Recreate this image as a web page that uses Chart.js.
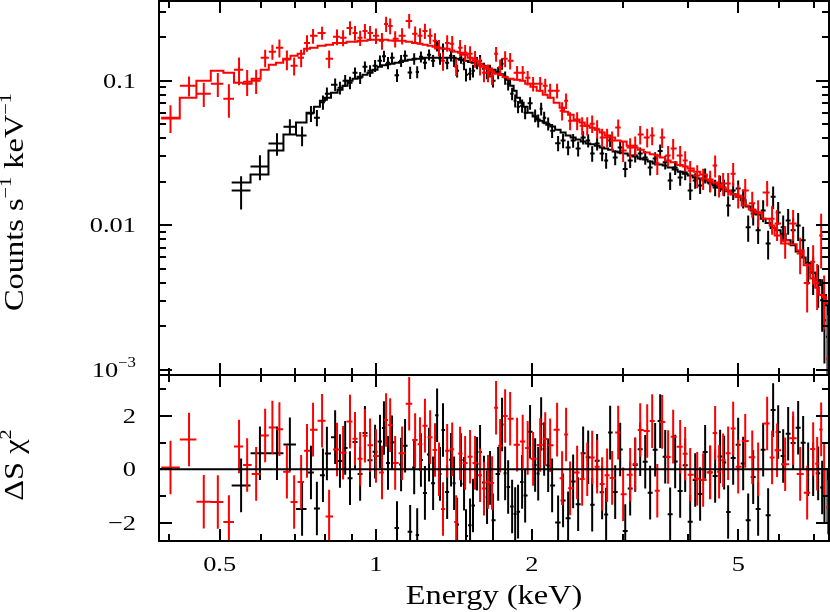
<!DOCTYPE html>
<html><head><meta charset="utf-8">
<script src="https://cdn.jsdelivr.net/npm/chart.js@4.4.1/dist/chart.umd.min.js"></script>
<style>
html,body{margin:0;padding:0;background:#fff;}
#wrap{position:relative;width:830px;height:612px;background:#fff;}
canvas{position:absolute;left:0;top:0;}
</style></head><body>
<div id="wrap"><canvas id="topc" width="830" height="612"></canvas><canvas id="botc" width="830" height="612"></canvas></div>
<script>
// ---------- DATA ----------
const blackEnergy = [0.550,0.598,0.645,0.683,0.721,0.750,0.770,0.791,0.805,0.835,0.853,0.873,0.892,0.912,0.933,0.953,0.975,0.997,1.019,1.037,1.056,1.075,1.099,1.119,1.139,1.165,1.186,1.202,1.222,1.244,1.267,1.290,1.313,1.330,1.348,1.373,1.397,1.416,1.435,1.460,1.480,1.493,1.520,1.540,1.568,1.589,1.617,1.639,1.661,1.683,1.722,1.752,1.776,1.800,1.832,1.857,1.881,1.915,1.941,1.984,2.029,2.057,2.084,2.112,2.150,2.188,2.247,2.297,2.349,2.402,2.456,2.511,2.568,2.614,2.672,2.732,2.781,2.831,2.895,2.960,3.027,3.094,3.164,3.235,3.308,3.381,3.457,3.535,3.615,3.695,3.778,3.863,3.950,4.039,4.130,4.221,4.316,4.413,4.512,4.613,4.696,4.780,4.888,4.998,5.110,5.225,5.342,5.461,5.584,5.709,5.837,5.969,6.103,6.240,6.379,6.523,6.669,6.819,6.972,7.129,7.256,7.33,7.43];
const blackCounts = [0.0174,0.0255,0.0368,0.0481,0.0418,0.0593,0.0556,0.0710,0.0813,0.094,0.0895,0.100,0.0969,0.1135,0.1049,0.125,0.1172,0.1269,0.1374,0.148,0.1331,0.1441,0.109,0.1374,0.1488,0.114,0.1419,0.115,0.1465,0.1331,0.1512,0.1374,0.1744,0.1419,0.1662,0.1331,0.1488,0.1374,0.1172,0.1441,0.131,0.110,0.112,0.1172,0.1331,0.1374,0.121,0.1135,0.1172,0.100,0.1135,0.131,0.1049,0.0953,0.0813,0.0728,0.066,0.0672,0.0602,0.0700,0.0574,0.0530,0.064,0.0556,0.0505,0.0452,0.037,0.0386,0.0345,0.0386,0.034,0.0405,0.0386,0.0314,0.0368,0.0314,0.0281,0.0386,0.0295,0.0345,0.0245,0.0281,0.0304,0.0314,0.0295,0.0251,0.029,0.0327,0.0273,0.0204,0.0251,0.0214,0.0232,0.0174,0.0204,0.0189,0.0221,0.0195,0.0183,0.0195,0.0183,0.0137,0.0174,0.0180,0.0154,0.0097,0.0121,0.00924,0.0127,0.0075,0.0158,0.0123,0.0097,0.0108,0.00924,0.0100,0.00788,0.0055,0.0047,0.0040,0.00304,0.00221,0.0017];
const blackError = [0.0045,0.005,0.0065,0.006,0.0065,0.0075,0.0072,0.008,0.0085,0.0095,0.009,0.0095,0.0095,0.010,0.010,0.011,0.011,0.012,0.012,0.013,0.013,0.013,0.011,0.013,0.013,0.011,0.013,0.011,0.013,0.013,0.013,0.013,0.015,0.013,0.015,0.013,0.013,0.013,0.012,0.013,0.013,0.011,0.011,0.012,0.013,0.013,0.012,0.011,0.012,0.010,0.011,0.012,0.011,0.0095,0.008,0.0075,0.0065,0.007,0.006,0.007,0.0058,0.0055,0.0065,0.0055,0.0052,0.005,0.0045,0.0045,0.004,0.0042,0.004,0.0042,0.004,0.0038,0.0038,0.0036,0.0035,0.0038,0.0034,0.0035,0.003,0.0032,0.0032,0.0032,0.0032,0.003,0.003,0.0035,0.003,0.0028,0.0028,0.0026,0.0027,0.0024,0.0025,0.0024,0.0026,0.0025,0.0024,0.0025,0.0024,0.0022,0.0024,0.0024,0.0023,0.002,0.0021,0.0018,0.0022,0.0017,0.0028,0.0022,0.002,0.0022,0.002,0.0022,0.0019,0.0016,0.0014,0.0013,0.0012,0.0011,0.0011];
const blackModel = [0.0198,0.0225,0.0329,0.0425,0.0514,0.0602,0.0661,0.0728,0.0763,0.0826,0.0867,0.0924,0.100,0.1033,0.1066,0.110,0.1135,0.119,0.1249,0.128,0.130,0.131,0.1331,0.135,0.1374,0.1396,0.141,0.142,0.1419,0.1445,0.1441,0.1441,0.1441,0.1441,0.1441,0.1441,0.1441,0.1441,0.1419,0.1396,0.138,0.1374,0.135,0.1334,0.1304,0.1289,0.1269,0.1249,0.121,0.119,0.1154,0.111,0.1066,0.1016,0.0924,0.0853,0.0763,0.0705,0.0661,0.0602,0.0565,0.0539,0.0530,0.0514,0.0497,0.0482,0.0459,0.0438,0.0418,0.0405,0.0392,0.0380,0.0368,0.0364,0.0356,0.0345,0.0340,0.0334,0.0324,0.0319,0.0314,0.0304,0.0299,0.0290,0.0286,0.0277,0.0268,0.0264,0.0259,0.0251,0.0243,0.0235,0.0228,0.0221,0.0214,0.0211,0.0204,0.0198,0.0189,0.0183,0.0177,0.0172,0.0164,0.0158,0.0149,0.0135,0.0127,0.0119,0.0111,0.0104,0.0096,0.00924,0.0087,0.00788,0.00728,0.0066,0.0060,0.0055,0.0047,0.0042,0.00386,0.0033,0.0028];
const blackResid = [-0.6,0.6,0.6,0.93,-1.48,-0.12,-1.46,-0.22,0.59,1.2,0.31,0.8,-0.33,1.02,-0.17,1.36,0.34,0.66,1.04,1.54,0.24,1.01,-2.19,0.18,0.88,-2.33,0.07,-2.45,0.35,-0.88,0.55,-0.52,2.02,-0.17,1.47,-0.85,0.36,-0.52,-2.06,0.35,-0.54,-2.49,-2.09,-1.35,0.21,0.65,-0.49,-1.04,-0.32,-1.9,-0.17,1.67,-0.15,-0.66,-1.39,-1.67,-1.58,-0.47,-0.98,1.4,0.16,-0.16,1.69,0.76,0.15,-0.6,-1.98,-1.16,-1.83,-0.45,-1.3,0.6,0.45,-1.32,0.32,-0.86,-1.69,1.37,-0.85,0.74,-2.3,-0.72,0.16,0.75,0.28,-0.87,0.73,1.8,0.47,-1.68,0.29,-0.81,0.15,-1.96,-0.4,-0.92,0.65,-0.12,-0.25,0.48,0.25,-1.59,0.42,0.92,0.22,-1.9,-0.29,-1.48,0.73,-1.71,2.21,1.39,0.5,1.33,0.98,1.55,0.99,0,0,-0.15,-0.68,-0.99,-1.0];

const redEnergy = [0.402,0.4365,0.466,0.496,0.521,0.545,0.565,0.588,0.612,0.632,0.652,0.674,0.696,0.718,0.737,0.757,0.788,0.813,0.842,0.865,0.892,0.912,0.933,0.953,0.975,1.001,1.028,1.047,1.066,1.090,1.124,1.160,1.191,1.217,1.244,1.273,1.301,1.324,1.348,1.373,1.404,1.429,1.454,1.487,1.520,1.554,1.589,1.617,1.646,1.676,1.706,1.737,1.776,1.816,1.873,1.920,1.963,2.011,2.075,2.122,2.169,2.237,2.287,2.328,2.370,2.445,2.500,2.557,2.614,2.672,2.732,2.793,2.856,2.934,2.999,3.094,3.164,3.235,3.337,3.412,3.49,3.566,3.662,3.745,3.863,3.950,4.039,4.167,4.278,4.413,4.512,4.592,4.675,4.780,4.888,4.998,5.157,5.320,5.461,5.684,5.810,5.94,6.157,6.379,6.581,6.789,6.972,7.097,7.224,7.32,7.45];
const redCounts = [0.0556,0.0924,0.0813,0.0953,0.0751,0.119,0.0985,0.100,0.1441,0.1585,0.169,0.140,0.1269,0.1441,0.1827,0.2044,0.2143,0.1419,0.2012,0.1981,0.232,0.2143,0.1981,0.2212,0.2143,0.2044,0.1888,0.2471,0.2394,0.1949,0.2044,0.2594,0.211,0.2044,0.2212,0.2044,0.1888,0.169,0.1374,0.1827,0.180,0.125,0.169,0.156,0.1535,0.1419,0.1269,0.1135,0.1135,0.1083,0.1535,0.124,0.1419,0.1374,0.1135,0.1135,0.1049,0.0953,0.0953,0.0924,0.0853,0.0853,0.0621,0.0728,0.0530,0.0530,0.0489,0.0489,0.0505,0.0466,0.0405,0.0405,0.0386,0.0475,0.0329,0.0345,0.0356,0.0425,0.0405,0.0418,0.0268,0.0405,0.0304,0.034,0.0304,0.0281,0.0239,0.0221,0.0211,0.0204,0.0259,0.0189,0.0195,0.0195,0.0228,0.0161,0.0174,0.0142,0.0123,0.0169,0.0111,0.0103,0.00788,0.0103,0.0064,0.004,0.0056,0.004,0.00853,0.0032,0.0012];
const redError = [0.012,0.0145,0.0155,0.018,0.0195,0.026,0.02,0.019,0.02,0.019,0.024,0.022,0.018,0.02,0.024,0.024,0.022,0.02,0.025,0.025,0.026,0.025,0.024,0.026,0.025,0.025,0.025,0.03,0.03,0.025,0.026,0.03,0.026,0.026,0.027,0.025,0.024,0.022,0.02,0.024,0.024,0.017,0.022,0.021,0.02,0.019,0.018,0.016,0.016,0.015,0.018,0.016,0.018,0.018,0.013,0.013,0.012,0.011,0.011,0.011,0.010,0.010,0.009,0.009,0.0075,0.0075,0.007,0.007,0.007,0.0068,0.006,0.006,0.006,0.0065,0.0055,0.0055,0.0055,0.0062,0.006,0.006,0.0045,0.0062,0.005,0.0055,0.005,0.0045,0.004,0.004,0.0035,0.0035,0.0045,0.0033,0.0035,0.0035,0.0042,0.003,0.0035,0.0029,0.0026,0.0034,0.0025,0.0025,0.002,0.0025,0.0018,0.0015,0.0017,0.0014,0.0035,0.0013,0.0012];
const redModel = [0.0548,0.0763,0.100,0.1172,0.1135,0.0969,0.0953,0.1033,0.119,0.1289,0.1331,0.1419,0.1488,0.1535,0.1662,0.169,0.1744,0.1771,0.1827,0.1827,0.1858,0.1858,0.1888,0.1888,0.1918,0.1918,0.1918,0.1918,0.190,0.1888,0.1888,0.1858,0.1827,0.180,0.1771,0.1744,0.1716,0.169,0.167,0.1662,0.162,0.1585,0.156,0.151,0.1441,0.1374,0.1309,0.125,0.121,0.116,0.112,0.110,0.106,0.1033,0.1016,0.100,0.0953,0.0910,0.0853,0.080,0.0763,0.0705,0.0651,0.0611,0.0583,0.0539,0.0514,0.0489,0.0474,0.0459,0.0438,0.0418,0.0405,0.0386,0.038,0.0356,0.0345,0.0334,0.0319,0.031,0.0304,0.0295,0.0281,0.0273,0.0262,0.0255,0.0247,0.0235,0.0225,0.0208,0.0198,0.0192,0.0183,0.0174,0.0164,0.0158,0.0137,0.0129,0.0123,0.0111,0.0100,0.00853,0.0075,0.0074,0.0067,0.0053,0.0043,0.0037,0.0033,0.0032,0.0029];
const redResid = [0.07,1.11,-1.21,-1.22,-1.97,0.85,0.16,-0.17,1.26,1.56,1.5,-0.09,-1.22,-0.47,0.69,1.48,1.81,-1.76,0.74,0.62,1.78,1.14,0.39,1.25,0.9,0.5,-0.12,1.84,1.65,0.24,0.6,2.45,1.09,0.94,1.63,1.2,0.72,0,-1.48,0.69,0.75,-1.97,0.59,0.24,0.47,0.24,-0.22,-0.72,-0.47,-0.51,2.3,0.88,1.99,1.89,0.92,1.04,0.8,0.39,0.91,1.13,0.9,1.48,-0.33,1.3,-0.71,-0.12,-0.36,0,0.44,0.1,-0.55,-0.22,-0.32,1.37,-0.93,-0.2,0.2,1.47,1.43,1.8,-0.8,1.77,0.46,1.22,0.84,0.58,-0.2,-0.35,-0.4,-0.11,1.36,-0.09,0.34,0.6,1.52,0.1,1.06,0.45,0,1.71,0.44,0.71,0.19,1.16,-0.17,-0.87,0.76,0.21,1.49,0,-1.42];

// axis ranges and ticks
const energyRange = [0.382, 7.48];
const countsRange = [0.000924, 0.356];
const residRange = [-2.675, 3.52];
const xMajorTicks = [0.5, 1, 2, 5];
const xMajorLabels = ['0.5', '1', '2', '5'];
const xMinorTicks = [0.4, 0.6, 0.7, 0.8, 0.9, 3, 4, 6, 7];
const yMajorTicks = [0.001, 0.01, 0.1];
const yMinorTicks = [0.002,0.003,0.004,0.005,0.006,0.007,0.008,0.009,0.02,0.03,0.04,0.05,0.06,0.07,0.08,0.09,0.2,0.3];
const rMajorTicks = [-2, 0, 2];
const rMajorLabels = ['\u22122', '0', '2'];
const rMinorTicks = [-1, 1, 3];

// ---------- helpers ----------
const FONT = '"Liberation Serif","Times New Roman",serif';
const STRETCH = 1.2;
function binEdges(E){
  const n = E.length, ed = new Array(n+1);
  for (let i=1;i<n;i++) ed[i] = Math.sqrt(E[i-1]*E[i]);
  ed[0] = E[0]*E[0]/ed[1];
  ed[n] = E[n-1]*E[n-1]/ed[n-1];
  return ed;
}
function crosses(E, Y, err, ed, floor){
  const pts = [];
  for (let i=0;i<E.length;i++){
    pts.push({x:ed[i],y:Y[i]},{x:ed[i+1],y:Y[i]},{x:E[i],y:null});
    let lo = Y[i]-err[i];
    if (floor !== undefined && lo < floor) lo = floor;
    pts.push({x:E[i],y:lo},{x:E[i],y:Y[i]+err[i]},{x:E[i],y:null});
  }
  return pts;
}
function steps(ed, M){
  const pts = [];
  for (let i=0;i<M.length;i++) pts.push({x:ed[i],y:M[i]},{x:ed[i+1],y:M[i]});
  return pts;
}
const ones = a => a.map(() => 1);

function richText(ctx, parts, x, y, align, size){
  // parts: [text, isSup]; text is drawn slightly widened
  let w = 0;
  const widths = parts.map(p => {
    ctx.font = (p[1] ? Math.round(size*0.62) : size) + 'px ' + FONT;
    const m = ctx.measureText(p[0]).width; w += m; return m;
  });
  ctx.save();
  ctx.translate(x, y);
  ctx.scale(STRETCH, 1);
  let cx = align === 'right' ? -w : (align === 'center' ? -w/2 : 0);
  ctx.textAlign = 'left';
  parts.forEach((p,i) => {
    ctx.font = (p[1] ? Math.round(size*0.62) : size) + 'px ' + FONT;
    ctx.fillText(p[0], cx, p[1] ? -size*0.36 : 0);
    cx += widths[i];
  });
  ctx.restore();
}

function framePlugin(cfg){
  return {
    id: 'frame_' + cfg.name,
    afterDatasetsDraw(chart){
      const {ctx, chartArea: a, scales} = chart;
      const xs = scales.x, ys = scales.y;
      ctx.save();
      ctx.strokeStyle = '#000'; ctx.lineWidth = 2; ctx.lineCap = 'butt';
      const seg = (x1,y1,x2,y2) => { ctx.beginPath(); ctx.moveTo(x1,y1); ctx.lineTo(x2,y2); ctx.stroke(); };
      const tx = (vals, len) => vals.forEach(v => {
        const p = Math.round(xs.getPixelForValue(v));
        seg(p, a.top, p, a.top+len); seg(p, a.bottom, p, a.bottom-len);
      });
      const ty = (vals, len) => vals.forEach(v => {
        const p = Math.round(ys.getPixelForValue(v));
        seg(a.left, p, a.left+len, p); seg(a.right, p, a.right-len, p);
      });
      tx(xMajorTicks, 12); tx(xMinorTicks, 7);
      ty(cfg.yMajor, 13); ty(cfg.yMinor, 7);
      ctx.strokeRect(a.left, a.top, a.right-a.left, a.bottom-a.top);
      ctx.fillStyle = '#000'; ctx.textBaseline = 'middle';
      cfg.yLabels.forEach((parts, i) => {
        const p = ys.getPixelForValue(cfg.yMajor[i]);
        richText(ctx, parts, 136, p + 1, 'right', 22);
      });
      if (cfg.drawX){
        xMajorTicks.forEach((v,i) => {
          const p = xs.getPixelForValue(v);
          richText(ctx, [[xMajorLabels[i], false]], p, 565, 'center', 22);
        });
        richText(ctx, [['Energy (keV)', false]], (a.left+a.right)/2, 597, 'center', 27);
      }
      // rotated axis title
      ctx.save();
      ctx.translate(cfg.titleX, cfg.titleY);
      ctx.rotate(-Math.PI/2);
      richText(ctx, cfg.title, 0, 0, 'center', 27);
      ctx.restore();
      ctx.restore();
    }
  };
}

const commonOpts = (pad, yScale) => ({
  responsive: false, animation: false, devicePixelRatio: 1,
  layout: {padding: pad},
  events: [],
  datasets: {scatter: {showLine: true, pointRadius: 0, borderWidth: 2, spanGaps: false, clip: 0}},
  scales: {
    x: {type: 'logarithmic', min: energyRange[0], max: energyRange[1], display: false},
    y: yScale
  },
  plugins: {legend: {display: false}, tooltip: {enabled: false}}
});

const bEd = binEdges(blackEnergy), rEd = binEdges(redEnergy);
const floorY = countsRange[0]*0.5;

new Chart(document.getElementById('topc'), {
  type: 'scatter',
  data: {datasets: [
    {data: steps(rEd, redModel), borderColor: '#ff0000', order: 1},
    {data: crosses(redEnergy, redCounts, redError, rEd, floorY), borderColor: '#ff0000', order: 2},
    {data: steps(bEd, blackModel), borderColor: '#000000', order: 3},
    {data: crosses(blackEnergy, blackCounts, blackError, bEd, floorY), borderColor: '#000000', order: 4}
  ]},
  options: commonOpts({left:159, right:1, top:1, bottom:237},
    {type: 'logarithmic', min: countsRange[0], max: countsRange[1], display: false}),
  plugins: [framePlugin({name:'top', yMajor: yMajorTicks, yMinor: yMinorTicks,
    yLabels: [[['10',false],['\u22123',true]], [['0.01',false]], [['0.1',false]]],
    drawX: false, titleX: 16, titleY: 202,
    title: [['Counts s',false],['\u22121',true],[' keV',false],['\u22121',true]]})]
});

new Chart(document.getElementById('botc'), {
  type: 'scatter',
  data: {datasets: [
    {data: [{x: energyRange[0], y: 0}, {x: energyRange[1], y: 0}], borderColor: '#000000', order: 0},
    {data: crosses(redEnergy, redResid, ones(redResid), rEd), borderColor: '#ff0000', order: 2},
    {data: crosses(blackEnergy, blackResid, ones(blackResid), bEd), borderColor: '#000000', order: 4}
  ]},
  options: commonOpts({left:159, right:1, top:375, bottom:71},
    {type: 'linear', min: residRange[0], max: residRange[1], display: false}),
  plugins: [framePlugin({name:'bot', yMajor: rMajorTicks, yMinor: rMinorTicks,
    yLabels: rMajorLabels.map(s => [[s,false]]),
    drawX: true, titleX: 16, titleY: 465,
    title: [['\u0394S \u03c7',false],['2',true]]})]
});
</script>
</body></html>
